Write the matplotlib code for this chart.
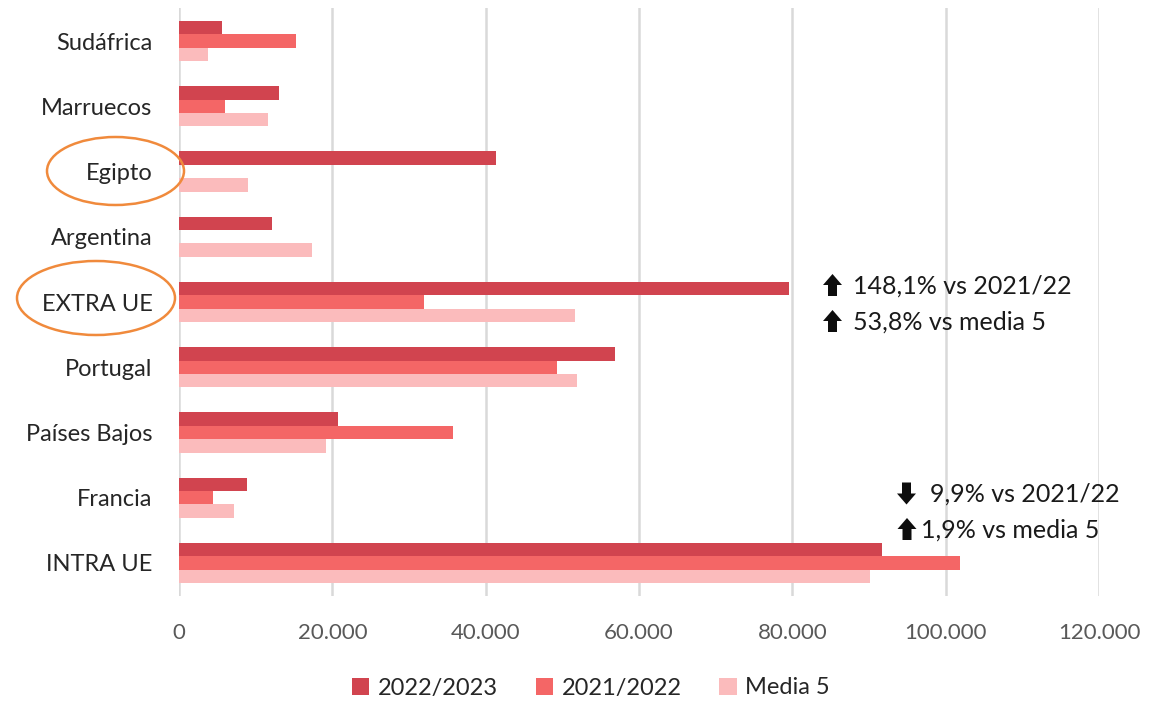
import matplotlib.pyplot as plt
import numpy as np
from matplotlib.patches import Ellipse, Polygon

plt.rcParams['font.family'] = ['Lato', 'DejaVu Sans']

# categorias de abajo a arriba
paises = ['INTRA UE', 'Francia', 'Países Bajos', 'Portugal', 'EXTRA UE',
          'Argentina', 'Egipto', 'Marruecos', 'Sudáfrica']
campana_2223 = [91700, 8850, 20700, 56900, 79500, 12100, 41300, 13000, 5600]
campana_2122 = [101900, 4400, 35700, 49300, 32000, 0, 0, 6000, 15200]
media_5 = [90100, 7200, 19200, 51900, 51700, 17400, 9000, 11600, 3750]
series_labels = ['2022/2023', '2021/2022', 'Media 5']
colores = ['#D1444F', '#F46666', '#FBBBBC']

W, H = 1170, 703
fig = plt.figure(figsize=(W / 100, H / 100), dpi=100)
ax = fig.add_axes([179 / W, 1 - 595.6 / H, 920 / W, 587.2 / H])

y = np.arange(len(paises))
h = 0.205
for i, (vals, lab) in enumerate(zip([campana_2223, campana_2122, media_5], series_labels)):
    ax.barh(y + h * (1 - i), vals, height=h, color=colores[i], label=lab, zorder=3)

ax.set_ylim(-0.5, len(paises) - 0.5)
ax.set_xlim(0, 120000)
ax.set_xticks(np.arange(0, 120001, 20000))
ax.set_xticklabels([f'{v:,}'.replace(',', '.') for v in range(0, 120001, 20000)],
                   fontsize=16, color='#595959')
ax.set_yticks(y)
ax.set_yticklabels(paises, fontsize=17, color='#262626')
ax.tick_params(axis='both', length=0)
ax.tick_params(axis='x', pad=20)
ax.tick_params(axis='y', pad=19)
ax.grid(axis='x', color='#D9D9D9', linewidth=1.8, zorder=0)
for s in ax.spines.values():
    s.set_visible(False)

leg = fig.legend(loc='center', bbox_to_anchor=(0.505, 1 - 688 / H), ncol=3, frameon=False,
                 fontsize=17, handlelength=0.75, handleheight=0.75, columnspacing=1.6,
                 handletextpad=0.35)
for t in leg.get_texts():
    t.set_color('#262626')

# anotaciones
def ftxt(px, py, s):
    fig.text(px / W, 1 - py / H, s, va='center', ha='left', fontsize=18, color='#1a1a1a')


def flecha(px, py, arriba=True):
    # flecha gruesa, px = centro, py = centro vertical (pixeles)
    d = 1 if arriba else -1
    pts = [(px - 4.5, py + 11 * d), (px + 4.5, py + 11 * d), (px + 4.5, py),
           (px + 9.5, py), (px, py - 11 * d), (px - 9.5, py), (px - 4.5, py)]
    pts = [(a / W, 1 - b / H) for a, b in pts]
    fig.add_artist(Polygon(pts, closed=True, transform=fig.transFigure,
                           facecolor='#0d0d0d', edgecolor='none'))


flecha(832.5, 285)
ftxt(853, 286, '148,1% vs 2021/22')
flecha(832.5, 321)
ftxt(853, 322, '53,8% vs media 5')
flecha(906.5, 493.5, arriba=False)
ftxt(930, 494, '9,9% vs 2021/22')
flecha(907, 529)
ftxt(921, 530, '1,9% vs media 5')

# circulos naranjas
for cx, cy, ew, eh in [(115.5, 171, 137, 68), (96, 298, 158, 74)]:
    fig.add_artist(Ellipse((cx / W, 1 - cy / H), ew / W, eh / H, transform=fig.transFigure,
                           fill=False, edgecolor='#F08A3C', linewidth=1.8))

fig.savefig('out.png', dpi=100)
